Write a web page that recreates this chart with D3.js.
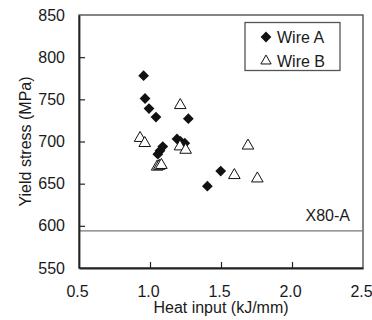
<!DOCTYPE html>
<html>
<head>
<meta charset="utf-8">
<script src="https://cdn.jsdelivr.net/npm/d3@7"></script>
<style>
  body { margin: 0; background: #fff; }
  svg text { font-family: "Liberation Sans", Arial, sans-serif; fill: #1a1a1a; }
</style>
</head>
<body>
<svg id="chart"></svg>
<script>
// data
const wireA = [
    {heat: 0.955, stress: 778},
    {heat: 0.965, stress: 751},
    {heat: 0.993, stress: 739},
    {heat: 1.042, stress: 729},
    {heat: 1.27, stress: 727},
    {heat: 1.19, stress: 703},
    {heat: 1.215, stress: 700},
    {heat: 1.245, stress: 698},
    {heat: 1.09, stress: 694},
    {heat: 1.07, stress: 689},
    {heat: 1.055, stress: 685},
    {heat: 1.498, stress: 665},
    {heat: 1.404, stress: 647}
];
const wireB = [
    {heat: 0.93, stress: 704},
    {heat: 0.963, stress: 698},
    {heat: 1.213, stress: 743},
    {heat: 1.211, stress: 694},
    {heat: 1.251, stress: 690},
    {heat: 1.05, stress: 670},
    {heat: 1.065, stress: 671},
    {heat: 1.08, stress: 672},
    {heat: 1.69, stress: 695},
    {heat: 1.594, stress: 660},
    {heat: 1.756, stress: 656}
];
const seriesNames = ["Wire A", "Wire B"];
const xTicks = [0.5, 1.0, 1.5, 2.0, 2.5];
const yTicks = [550, 600, 650, 700, 750, 800, 850];
const refLine = {label: "X80-A", stress: 594};

// layout
const width = 372, height = 320;
const plot = {left: 79, right: 363, top: 15, bottom: 268};

const svg = d3.select('#chart')
    .attr('width', width)
    .attr('height', height);

const x = d3.scaleLinear().domain([0.5, 2.5]).range([plot.left, plot.right]);
const y = d3.scaleLinear().domain([550, 850]).range([plot.bottom, plot.top]);

// frame
svg.append('rect')
    .attr('x', plot.left)
    .attr('y', plot.top)
    .attr('width', plot.right - plot.left)
    .attr('height', plot.bottom - plot.top)
    .attr('fill', 'none')
    .attr('stroke', '#444')
    .attr('stroke-width', 1.3);

// reference line
svg.append('line')
    .attr('x1', plot.left).attr('x2', plot.right)
    .attr('y1', y(refLine.stress)).attr('y2', y(refLine.stress))
    .attr('stroke', '#777')
    .attr('stroke-width', 1.3);
svg.append('text')
    .attr('x', 350)
    .attr('y', y(refLine.stress) - 10)
    .attr('text-anchor', 'end')
    .style('font-size', '16px')
    .text(refLine.label);

// axes, ticks inside
const yAxis = svg.append('g')
    .attr('transform', 'translate(' + plot.left + ',0)')
    .call(d3.axisLeft(y).tickValues(yTicks).tickSizeInner(-6).tickSizeOuter(0).tickPadding(14));
const xAxis = svg.append('g')
    .attr('transform', 'translate(0,' + plot.bottom + ')')
    .call(d3.axisBottom(x).tickValues(xTicks).tickFormat(d3.format('.1f')).tickSizeInner(-6).tickSizeOuter(0).tickPadding(18));

[yAxis, xAxis].forEach(function(g) {
    g.select('.domain').attr('stroke', '#222').attr('stroke-width', 1.8);
    g.selectAll('.tick line').attr('stroke', '#222').attr('stroke-width', 1.2);
    g.selectAll('.tick text').style('font-size', '16px').attr('fill', '#1a1a1a')
        .style('font-family', '"Liberation Sans", Arial, sans-serif');
});
xAxis.selectAll('.tick text').attr('dx', -2);
// hide the tick marks sitting on the frame corners
yAxis.selectAll('.tick line').filter(d => d === 550 || d === 850).remove();
xAxis.selectAll('.tick line').filter(d => d === 0.5 || d === 2.5).remove();

// axis titles
svg.append('text')
    .attr('x', (plot.left + plot.right) / 2)
    .attr('y', 313)
    .attr('text-anchor', 'middle')
    .style('font-size', '16px')
    .text('Heat input (kJ/mm)');
svg.append('text')
    .attr('transform', 'translate(30.5,' + (plot.top + plot.bottom) / 2 + ') rotate(-90)')
    .attr('text-anchor', 'middle')
    .style('font-size', '16px')
    .text('Yield stress (MPa)');

// markers
const diamond = d3.symbol().type(d3.symbolSquare).size(58);
const triangle = d3.symbol().type(d3.symbolTriangle).size(58);
const legendTriangle = d3.symbol().type(d3.symbolTriangle).size(46);

svg.selectAll('path.wireA')
    .data(wireA)
    .enter()
    .append('path')
    .attr('class', 'wireA')
    .attr('d', diamond)
    .attr('transform', d => 'translate(' + x(d.heat) + ',' + y(d.stress) + ') rotate(45)')
    .attr('fill', '#111');

svg.selectAll('path.wireB')
    .data(wireB)
    .enter()
    .append('path')
    .attr('class', 'wireB')
    .attr('d', triangle)
    .attr('transform', d => 'translate(' + x(d.heat) + ',' + y(d.stress) + ')')
    .attr('fill', '#fff')
    .attr('stroke', '#111')
    .attr('stroke-width', 1);

// legend
const legend = svg.append('g');
legend.append('rect')
    .attr('x', 245).attr('y', 22.5)
    .attr('width', 95).attr('height', 48)
    .attr('fill', '#fff')
    .attr('stroke', '#555')
    .attr('stroke-width', 1.3);
seriesNames.forEach(function(name, i) {
    const cy = 37 + i * 24;
    legend.append('path')
        .attr('d', i === 0 ? diamond : legendTriangle)
        .attr('transform', 'translate(266,' + cy + ')' + (i === 0 ? ' rotate(45)' : ''))
        .attr('fill', i === 0 ? '#111' : '#fff')
        .attr('stroke', i === 0 ? 'none' : '#111');
    legend.append('text')
        .attr('x', 277)
        .attr('y', cy + 6)
        .style('font-size', '16px')
        .text(name);
});
</script>
</body>
</html>
